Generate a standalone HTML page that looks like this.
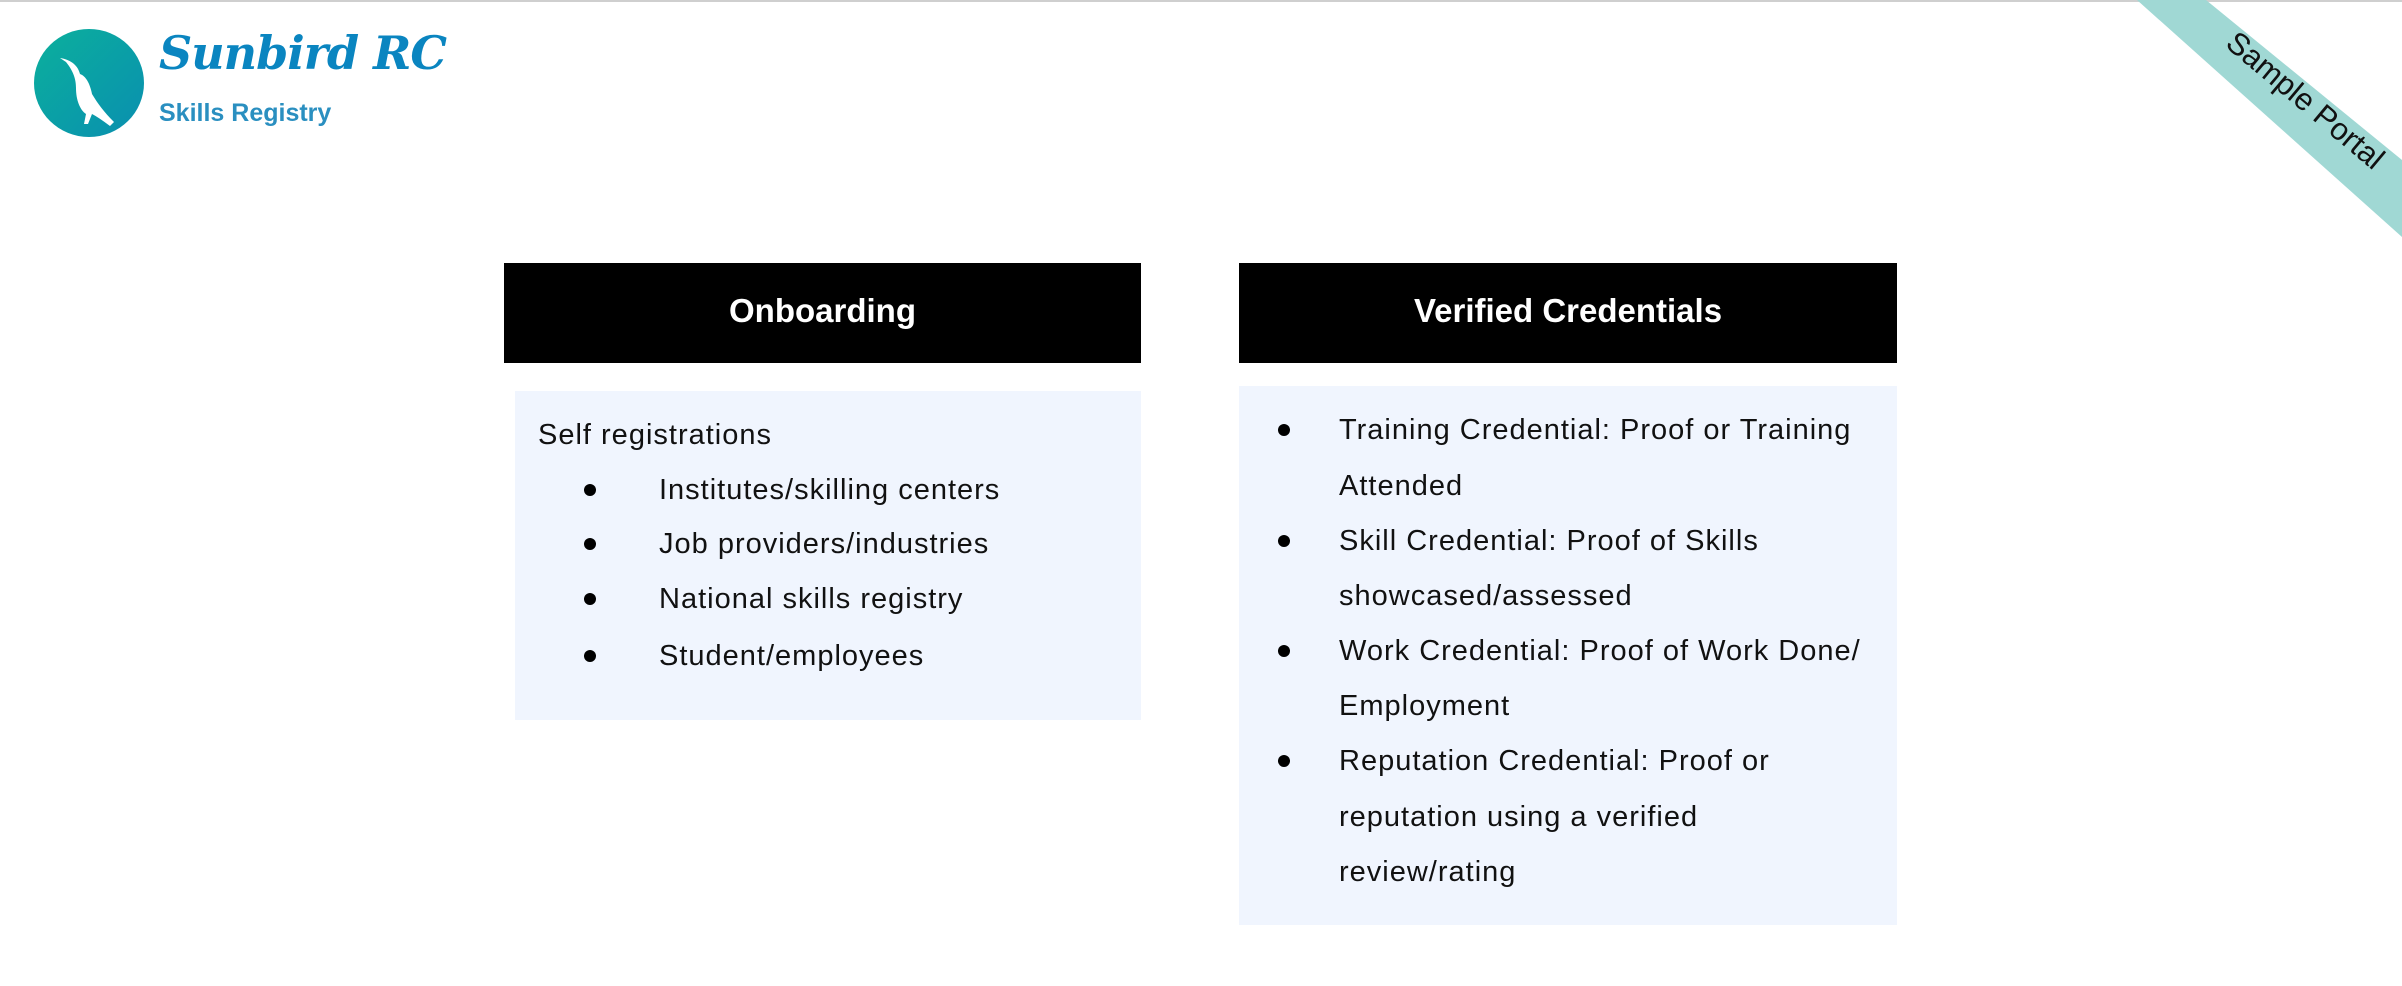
<!DOCTYPE html>
<html><head><meta charset="utf-8"><style>
html,body{margin:0;padding:0;}
body{width:2402px;height:986px;position:relative;overflow:hidden;background:#fff;font-family:"Liberation Sans",sans-serif;color:#111;}
.abs{position:absolute;}
.hdr{background:#000;color:#fff;font-weight:bold;font-size:33px;display:flex;align-items:center;justify-content:center;padding-bottom:4px;box-sizing:border-box;}
.body{background:#f0f5fe;}
.t{position:absolute;font-size:29px;letter-spacing:1px;line-height:32px;white-space:nowrap;}
.b{position:absolute;width:12px;height:12px;border-radius:50%;background:#000;}
</style></head><body>
<div class="abs" style="left:0;top:0;width:2402px;height:2px;background:#cfcfcf"></div>
<div class="abs" style="left:0;top:0;width:460px;height:140px">
<svg width="460" height="140" style="position:absolute;left:0;top:0">
<defs><linearGradient id="g" x1="0" y1="0" x2="1" y2="1"><stop offset="0" stop-color="#0bb09c"/><stop offset="1" stop-color="#0a8fb0"/></linearGradient></defs>
<ellipse cx="89" cy="83" rx="55" ry="54" fill="url(#g)"/>
<path d="M60 58 C72 60 78 66 80 74 C86 76 90 84 92 94 C98 104 104 112 114 122 L110 126 C102 120 96 116 92 114 L88 124 L84 124 L86 114 C80 110 76 100 76 88 C76 80 74 72 66 62 Z" fill="#fff"/>
</svg>
<div class="abs" style="left:159px;top:26px;font-family:'DejaVu Serif',serif;font-style:italic;font-weight:bold;font-size:46px;color:#0a85c0;letter-spacing:-1px;white-space:nowrap">Sunbird RC</div>
<div class="abs" style="left:159px;top:99px;font-size:25px;color:#2a8fc0;font-weight:bold;white-space:nowrap">Skills Registry</div>
</div>
<svg class="abs" width="2402" height="986" style="left:0;top:0;pointer-events:none">
<polygon points="2137,0 2206,0 2402,160 2402,237" fill="#a0d8d4"/>
<text x="2304" y="102" transform="rotate(40 2304 102)" text-anchor="middle" dominant-baseline="middle" font-family="Liberation Sans" font-size="31" fill="#111">Sample Portal</text>
</svg>
<div class="abs hdr" style="left:504px;top:263px;width:637px;height:100px">Onboarding</div>
<div class="abs hdr" style="left:1239px;top:263px;width:658px;height:100px">Verified Credentials</div>
<div class="abs body" style="left:515px;top:391px;width:626px;height:329px"></div>
<div class="abs body" style="left:1239px;top:386px;width:658px;height:539px"></div>
<div class="t" style="left:538px;top:419px">Self registrations</div>
<div class="b" style="left:584px;top:484px"></div>
<div class="t" style="left:659px;top:474px">Institutes/skilling centers</div>
<div class="b" style="left:584px;top:538px"></div>
<div class="t" style="left:659px;top:528px">Job providers/industries</div>
<div class="b" style="left:584px;top:593px"></div>
<div class="t" style="left:659px;top:583px">National skills registry</div>
<div class="b" style="left:584px;top:650px"></div>
<div class="t" style="left:659px;top:640px">Student/employees</div>
<div class="b" style="left:1278px;top:424px"></div>
<div class="t" style="left:1339px;top:414px">Training Credential: Proof or Training</div>
<div class="t" style="left:1339px;top:470px">Attended</div>
<div class="b" style="left:1278px;top:535px"></div>
<div class="t" style="left:1339px;top:525px">Skill Credential: Proof of Skills</div>
<div class="t" style="left:1339px;top:580px">showcased/assessed</div>
<div class="b" style="left:1278px;top:645px"></div>
<div class="t" style="left:1339px;top:635px">Work Credential: Proof of Work Done/</div>
<div class="t" style="left:1339px;top:690px">Employment</div>
<div class="b" style="left:1278px;top:755px"></div>
<div class="t" style="left:1339px;top:745px">Reputation Credential: Proof or</div>
<div class="t" style="left:1339px;top:801px">reputation using a verified</div>
<div class="t" style="left:1339px;top:856px">review/rating</div>
</body></html>
